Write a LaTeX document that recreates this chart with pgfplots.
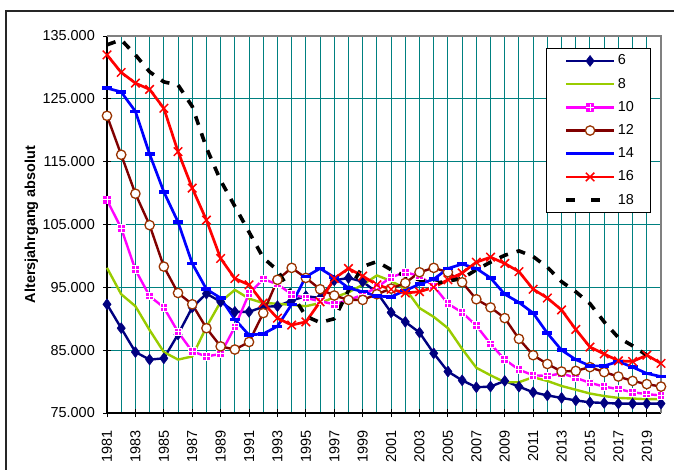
\documentclass[border=0pt]{standalone}
\usepackage{pgfplots}
\pgfplotsset{compat=1.18}
\usepackage{fontspec}
\setmainfont{Liberation Sans}
\definecolor{cNavy}{HTML}{000080}
\definecolor{cGreen}{HTML}{99CC00}
\definecolor{cMag}{HTML}{FF00FF}
\definecolor{cMaroon}{HTML}{800000}
\definecolor{cBrown}{HTML}{993300}
\definecolor{cBlue}{HTML}{0000FF}
\definecolor{cRed}{HTML}{FF0000}
\definecolor{cGrid}{HTML}{008080}
\definecolor{cBorder}{HTML}{808080}
\pgfdeclareplotmark{sqplus}{%
  \pgfpathrectangle{\pgfqpoint{-\pgfplotmarksize}{-\pgfplotmarksize}}{\pgfqpoint{2\pgfplotmarksize}{2\pgfplotmarksize}}%
  \pgfusepathqfillstroke
  \pgfsetstrokecolor{white}%
  \pgfsetlinewidth{1bp}%
  \pgfpathmoveto{\pgfqpoint{-\pgfplotmarksize}{0pt}}\pgfpathlineto{\pgfqpoint{\pgfplotmarksize}{0pt}}%
  \pgfpathmoveto{\pgfqpoint{0pt}{-\pgfplotmarksize}}\pgfpathlineto{\pgfqpoint{0pt}{\pgfplotmarksize}}%
  \pgfusepathqstroke
}
\newcommand{\lfont}{\fontsize{14.5}{17}\selectfont}
\begin{document}
\begin{tikzpicture}
\useasboundingbox (0,0) rectangle (674bp,470bp);
\draw[line width=1.2bp, black!85] (6bp,-20bp) rectangle (700bp,459bp);
\begin{axis}[
  at={(107bp,57bp)}, anchor=south west,
  scale only axis, width=554bp, height=377bp,
  xmin=1981, xmax=2020, ymin=75, ymax=135,
  clip=false,
  axis lines*=left,
  axis line style={black, line width=1.2bp},
  xtick={1981,1983,1985,1987,1989,1991,1993,1995,1997,1999,2001,2003,2005,2007,2009,2011,2013,2015,2017,2019},
  xticklabels={1981,1983,1985,1987,1989,1991,1993,1995,1997,1999,2001,2003,2005,2007,2009,2011,2013,2015,2017,2019},
  minor xtick={1982,1984,1986,1988,1990,1992,1994,1996,1998,2000,2002,2004,2006,2008,2010,2012,2014,2016,2018,2020},
  ytick={75,85,95,105,115,125,135},
  yticklabels={75.000,85.000,95.000,105.000,115.000,125.000,135.000},
  grid=both,
  major grid style={cGrid, line width=1bp},
  minor grid style={cGrid, line width=1bp},
  tick align=center,
  major tick length=8bp, minor tick length=0bp,
  tick style={black, line width=1bp},
  every tick label/.append style={font=\lfont},
  xticklabel style={yshift=-13bp, rotate=90, anchor=east, inner sep=0pt},
  yticklabel style={xshift=-8bp, anchor=east, inner sep=0pt},
  every axis y label/.style={at={(axis description cs:-0.1363,0.5)}, rotate=90, anchor=center, font=\bfseries\lfont},
  ylabel={Altersjahrgang absolut},
  legend style={at={(axis description cs:0.792,0.967)}, anchor=north west,
    draw=black, line width=1bp, inner sep=5bp, font=\lfont,
    row sep=9.2bp, column sep=2bp,
    nodes={inner sep=0pt, text height=11bp, text depth=3bp}},
  legend cell align=left,
  legend image code/.code={\path (0bp,0bp) (61bp,0bp); \draw[mark repeat=2, mark phase=2, #1] plot coordinates {(13bp,0bp) (37bp,0bp) (61bp,0bp)};},
  every axis plot/.append style={line join=round},
]
\draw[cBorder, line width=1.5bp] (rel axis cs:0,1) -- (rel axis cs:1,1) -- (rel axis cs:1,0);

\addplot[cNavy, line width=2.4bp, mark=diamond*, mark size=5.5bp, mark options={fill=cNavy, line width=0.5bp}] coordinates {
(1981,92.3)(1982,88.5)(1983,84.7)(1984,83.5)(1985,83.7)(1986,87.5)(1987,91.8)(1988,94.0)(1989,92.7)(1990,91.1)
(1991,91.1)(1992,91.9)(1993,92.0)(1994,92.9)(1995,93.6)(1996,93.3)(1997,96.1)(1998,96.5)(1999,95.9)(2000,94.2)
(2001,91.0)(2002,89.5)(2003,87.8)(2004,84.5)(2005,81.6)(2006,80.2)(2007,79.1)(2008,79.2)(2009,80.1)(2010,79.2)
(2011,78.3)(2012,77.8)(2013,77.4)(2014,77.0)(2015,76.7)(2016,76.6)(2017,76.5)(2018,76.5)(2019,76.5)(2020,76.5)};
\addlegendentry{6}

\addplot[cGreen, line width=2.4bp, no markers] coordinates {
(1981,98.1)(1982,93.9)(1983,92.0)(1984,88.2)(1985,84.7)(1986,83.5)(1987,84.0)(1988,88.7)(1989,92.7)(1990,94.6)
(1991,93.2)(1992,92.5)(1993,92.4)(1994,92.2)(1995,92.0)(1996,92.5)(1997,93.4)(1998,94.2)(1999,95.4)(2000,96.9)
(2001,96.0)(2002,94.8)(2003,91.7)(2004,90.3)(2005,88.5)(2006,85.2)(2007,82.2)(2008,81.0)(2009,79.9)(2010,79.9)
(2011,80.7)(2012,80.1)(2013,79.3)(2014,78.7)(2015,78.1)(2016,77.7)(2017,77.4)(2018,77.3)(2019,77.2)(2020,77.2)};
\addlegendentry{8}

\addplot[cMag, line width=2.4bp, mark=sqplus, mark size=3.8bp, mark options={fill=cMag, draw=cMag, line width=0.8bp}] coordinates {
(1981,108.9)(1982,104.4)(1983,97.8)(1984,93.6)(1985,91.8)(1986,87.9)(1987,84.8)(1988,84.0)(1989,84.4)(1990,88.7)
(1991,94.0)(1992,96.3)(1993,95.5)(1994,93.9)(1995,93.3)(1996,92.8)(1997,92.3)(1998,93.0)(1999,93.8)(2000,95.0)
(2001,96.6)(2002,97.4)(2003,96.8)(2004,95.2)(2005,92.4)(2006,91.0)(2007,88.9)(2008,86.0)(2009,83.5)(2010,81.9)
(2011,81.0)(2012,80.9)(2013,81.3)(2014,80.6)(2015,79.8)(2016,79.2)(2017,78.8)(2018,78.3)(2019,78.0)(2020,77.8)};
\addlegendentry{10}

\addplot[cMaroon, line width=2.4bp, mark=*, mark size=4.7bp, mark options={fill=white, draw=cBrown, line width=1.3bp}] coordinates {
(1981,122.3)(1982,116.1)(1983,109.9)(1984,104.9)(1985,98.3)(1986,94.1)(1987,92.3)(1988,88.5)(1989,85.6)(1990,85.1)
(1991,86.3)(1992,90.9)(1993,96.2)(1994,98.1)(1995,96.5)(1996,94.7)(1997,93.7)(1998,93.0)(1999,93.0)(2000,93.9)
(2001,94.8)(2002,95.7)(2003,97.4)(2004,98.1)(2005,97.4)(2006,95.8)(2007,93.1)(2008,91.8)(2009,90.1)(2010,86.8)
(2011,84.2)(2012,82.8)(2013,81.6)(2014,81.7)(2015,82.3)(2016,81.5)(2017,80.8)(2018,80.1)(2019,79.6)(2020,79.2)};
\addlegendentry{12}

\addplot[cBlue, line width=2.7bp, mark=-, mark size=5bp, mark options={line width=3.5bp}] coordinates {
(1981,126.7)(1982,126.1)(1983,123.0)(1984,116.2)(1985,110.2)(1986,105.4)(1987,98.8)(1988,94.7)(1989,93.3)(1990,89.9)
(1991,87.4)(1992,87.6)(1993,88.8)(1994,92.3)(1995,96.7)(1996,98.0)(1997,96.6)(1998,94.9)(1999,94.3)(2000,93.6)
(2001,93.5)(2002,94.5)(2003,95.5)(2004,96.3)(2005,98.0)(2006,98.7)(2007,98.0)(2008,96.5)(2009,93.9)(2010,92.6)
(2011,90.9)(2012,87.7)(2013,85.0)(2014,83.5)(2015,82.5)(2016,82.5)(2017,83.2)(2018,82.3)(2019,81.3)(2020,80.8)};
\addlegendentry{14}

\addplot[cRed, line width=2.7bp, mark=x, mark size=6bp, mark options={line width=1.5bp}] coordinates {
(1981,132.0)(1982,129.2)(1983,127.5)(1984,126.5)(1985,123.5)(1986,116.6)(1987,110.8)(1988,105.7)(1989,99.6)(1990,96.4)
(1991,95.4)(1992,92.5)(1993,90.1)(1994,89.0)(1995,89.5)(1996,92.7)(1997,96.4)(1998,98.0)(1999,96.8)(2000,95.4)
(2001,94.7)(2002,94.1)(2003,94.3)(2004,95.0)(2005,96.2)(2006,97.3)(2007,99.0)(2008,99.8)(2009,98.8)(2010,97.5)
(2011,94.7)(2012,93.3)(2013,91.4)(2014,88.3)(2015,85.5)(2016,84.4)(2017,83.3)(2018,83.2)(2019,84.2)(2020,82.9)};
\addlegendentry{16\hspace*{12bp}}

\addplot[black, line width=3.6bp, dash pattern=on 9bp off 9bp, no markers,
  legend image code/.code={\path (0bp,0bp) (61bp,0bp); \draw[black, line width=4bp] (13bp,0bp) -- (22bp,0bp) (38bp,0bp) -- (47bp,0bp);}] coordinates {
(1981,133.6)(1982,134.4)(1983,132.0)(1984,129.3)(1985,127.7)(1986,127.2)(1987,123.8)(1988,117.2)(1989,112.0)(1990,107.9)
(1991,103.8)(1992,99.7)(1993,97.7)(1994,94.0)(1995,90.4)(1996,89.4)(1997,90.0)(1998,94.5)(1999,98.3)(2000,99.1)
(2001,97.8)(2002,96.8)(2003,96.2)(2004,95.6)(2005,96.0)(2006,96.4)(2007,97.8)(2008,99.0)(2009,100.1)(2010,100.8)
(2011,99.9)(2012,98.2)(2013,95.9)(2014,94.3)(2015,92.4)(2016,89.5)(2017,87.0)(2018,85.7)(2019,84.2)};
\addlegendentry{18}
\end{axis}
\end{tikzpicture}
\end{document}
